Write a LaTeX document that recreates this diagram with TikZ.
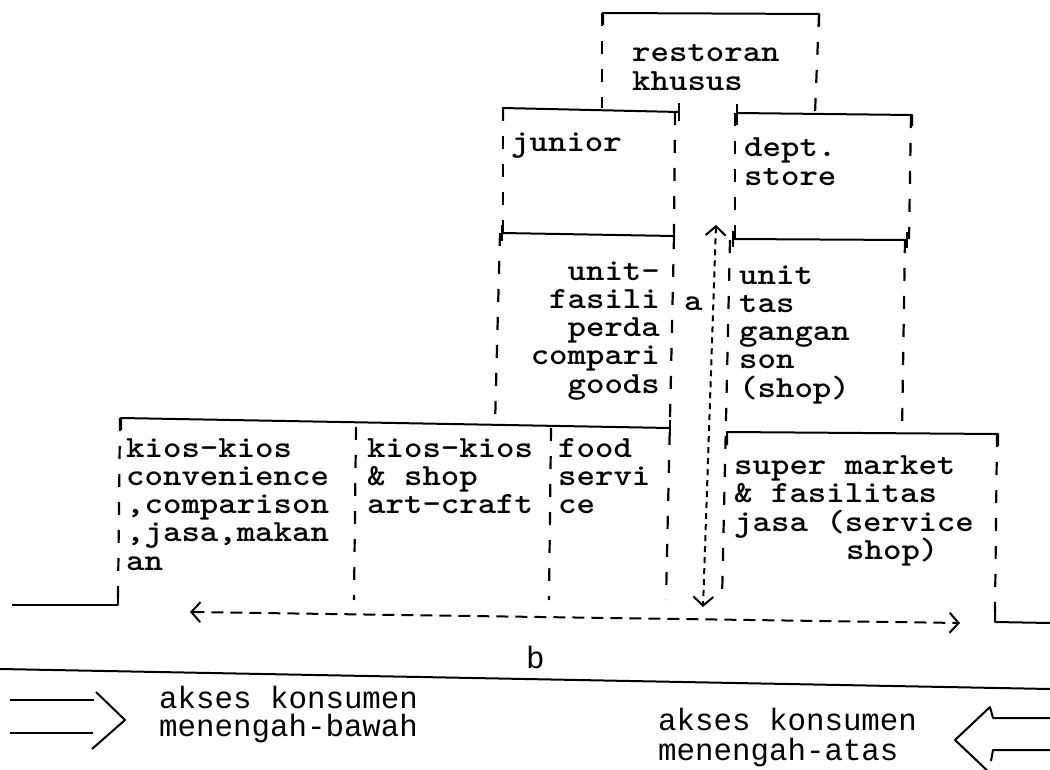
\documentclass[tikz,border=0pt]{standalone}
\usepackage{fontspec}
\newfontfamily\twl{Liberation Mono}
\newcommand\TW[1]{\scalebox{1.14}[1]{#1}}
\usetikzlibrary{arrows.meta}
\begin{document}
\begin{tikzpicture}[x=1pt,y=-1pt,
  frame/.style={line width=2pt,line join=round},
  side/.style={line width=2.2pt,dash pattern=on 13pt off 15pt},
  tick/.style={line width=2pt},
  adash/.style={line width=2pt,dash pattern=on 6pt off 5pt,
     arrows={Straight Barb[length=9pt,width=20pt]-Straight Barb[length=9pt,width=20pt]}},
  bdash/.style={line width=2pt,dash pattern=on 12pt off 7pt,
     arrows={Straight Barb[length=9pt,width=20pt]-Straight Barb[length=9pt,width=20pt]}},
  txt/.style={anchor=base west,inner sep=0pt,
     font=\ttfamily\bfseries\fontsize{30.8pt}{28.3pt}\selectfont},
  txtr/.style={txt,anchor=base east},
  btxt/.style={anchor=base west,inner sep=0pt,font=\twl\fontsize{30.8pt}{28.3pt}\selectfont},
]
\useasboundingbox[fill=white] (0,0) rectangle (1050,770);

% restoran khusus box
\draw[frame] (603,25) -- (603,13) -- (819,14) -- (819,26);
\draw[side] (602,13) -- (602,108);
\draw[side] (819,14) -- (815,113);

% junior box
\draw[frame] (503,121) -- (503,108) -- (679,112);
\draw[tick] (679,103) -- (679,121);
\draw[side] (503,108) -- (503,233);
\draw[side] (675,112) -- (674,233);
\draw[frame] (502,233) -- (674,236);
\draw[tick] (502,225) -- (502,241);
\draw[tick] (674,228) -- (674,244);

% dept store box
\draw[tick] (737,104) -- (737,125);
\draw[frame] (737,113) -- (912,115) -- (912,126);
\draw[side] (735,113) -- (735,239);
\draw[side] (911,115) -- (909,239);
\draw[frame] (733,239) -- (907,240);
\draw[tick] (733,231) -- (733,247);
\draw[tick] (907,232) -- (907,248);

% junior lower part
\draw[side] (500,233) -- (495,425);
\draw[side] (674,236) -- (666,600);

% bottom-left block
\draw[frame] (121,430) -- (121,418) -- (670,428);
\draw[tick] (670,420) -- (670,436);
\draw[side] (120,418) -- (118,598);
\draw[frame] (12,605) -- (118,605) -- (118,594);
\draw[side] (356,427) -- (354,600);
\draw[side] (551,428) -- (549,600);

% right lower part and supermarket
\draw[side] (730,240) -- (722,600);
\draw[side] (905,240) -- (902,433);
\draw[frame] (727,445) -- (727,432) -- (998,434) -- (998,446);
\draw[side] (997,434) -- (995,612);
\draw[frame] (995,610) -- (995,622) -- (1050,623);

% arrows a and b
\coordinate (aTop) at (716,225);
\coordinate (aBot) at (703,607);
\draw[adash] (aTop) -- (aBot);
\coordinate (bL) at (190,612);
\coordinate (bR) at (960,623);
\draw[bdash] (bL) -- (bR);

% street line
\draw[frame] (0,669) -- (1050,689);

% access arrows
\draw[frame] (10,700) -- (94,700);
\draw[frame] (10,733) -- (93,733);
\draw[frame] (96,692) -- (125,720) -- (92,749);
\draw[frame] (1050,718) -- (993,718) -- (990,707) -- (955,740) -- (993,776);
\draw[frame] (1050,750) -- (993,750) -- (991,761);

% texts
\foreach \t [count=\i] in {restoran,khusus}
  \node[txt] (rk\i) at (632,{33.7+28.3*\i}) {\TW{\t}};
\node[txt] (jun) at (511,152) {\TW{junior}};
\foreach \t [count=\i] in {dept.,store}
  \node[txt] (ds\i) at (744,{128.7+28.3*\i}) {\TW{\t}};
\foreach \t [count=\i] in {unit-,fasili,perda,compari,goods}
  \node[txtr] (uf\i) at (660,{251.7+28.3*\i}) {\TW{\t}};
\node[txt] (la) at (684,310) {\TW{a}};
\foreach \t [count=\i] in {unit,tas,gangan,son,{(shop)}}
  \node[txt] (ut\i) at (739,{255.7+28.3*\i}) {\TW{\t}};
\foreach \t [count=\i] in {kios-kios,convenience,{,comparison},{,jasa,makan},an}
  \node[txt] (kk\i) at (126,{428.7+28.3*\i}) {\TW{\t}};
\foreach \t [count=\i] in {kios-kios,{\& shop},art-craft}
  \node[txt] (ks\i) at (367,{428.7+28.3*\i}) {\TW{\t}};
\foreach \t [count=\i] in {food,servi,ce}
  \node[txt] (fs\i) at (558,{428.7+28.3*\i}) {\TW{\t}};
\foreach \t [count=\i] in {super market,{\& fasilitas},{jasa (service}}
  \node[txt] (sm\i) at (734,{445.5+28.5*\i}) {\TW{\t}};
\node[txt] (sm4) at (846,559.5) {\TW{shop)}};
\node[btxt] (lb) at (526,668) {b};
\foreach \t [count=\i] in {akses konsumen,menengah-bawah}
  \node[btxt] (al\i) at (159,{680+28*\i}) {\t};
\foreach \t [count=\i] in {akses konsumen,menengah-atas}
  \node[btxt] (ar\i) at (658,{700+30*\i}) {\t};
\end{tikzpicture}
\end{document}
